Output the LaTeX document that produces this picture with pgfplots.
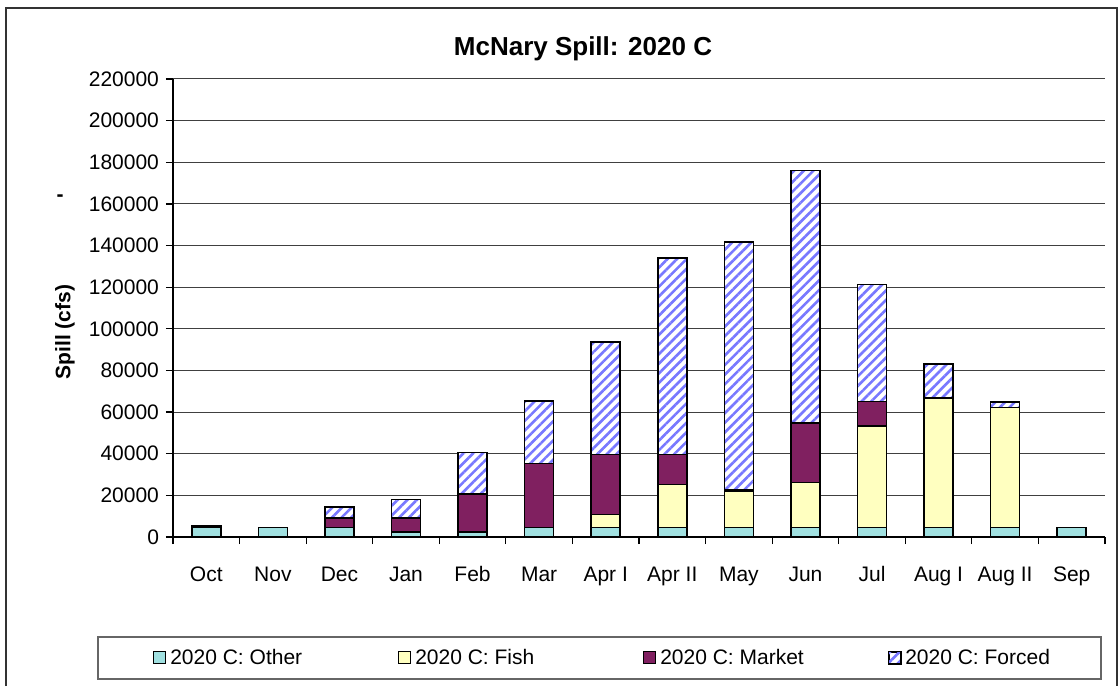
\documentclass[border=0pt]{standalone}
\usepackage{pgfplots}
\pgfplotsset{compat=1.18}
\usepackage{fontspec}
\setmainfont{Liberation Sans}
\usetikzlibrary{patterns.meta}

\definecolor{cOther}{RGB}{160,224,224}
\definecolor{cFish}{RGB}{255,255,192}
\definecolor{cMarket}{RGB}{128,32,96}
\definecolor{cStripe}{RGB}{120,120,255}

\newcommand{\lentry}[1]{\makebox[112pt][l]{#1}}

\begin{document}
\begin{tikzpicture}
% frame (1 px = 0.5 pt, y from bottom)
\begin{scope}[x=0.5pt,y=0.5pt]
  \useasboundingbox (0,0) rectangle (1120,686);
  \draw[black!80, line width=0.6pt] (6,0) -- (6,678) -- (1117,678) -- (1117,0);
  \draw[black!60, line width=0.6pt] (98,49) rectangle (1101,7);
  \node[anchor=base, font=\fontsize{13}{15}\selectfont\bfseries] at (583,630) {McNary Spill: 2020 C};
  \node[rotate=90, font=\fontsize{10.5}{12}\selectfont\bfseries] at (65,354) {Spill (cfs)};
  \node[font=\fontsize{10.5}{12}\selectfont\bfseries] at (60,488) {-};
\end{scope}

\begin{axis}[
  at={(86.5pt,74.5pt)}, anchor=south west,
  scale only axis, width=466pt, height=229pt,
  ybar stacked, bar width=14.5pt,
  xmin=-0.5, xmax=13.5,
  ymin=0, ymax=220000,
  xtick={-0.5,0.5,...,13.5},
  x tick label as interval,
  xticklabels={Oct,Nov,Dec,Jan,Feb,Mar,Apr I,Apr II,May,Jun,Jul,Aug I,Aug II,Sep},
  ytick={0,20000,40000,60000,80000,100000,120000,140000,160000,180000,200000,220000},
  yticklabels={0,20000,40000,60000,80000,100000,120000,140000,160000,180000,200000,220000},
  scaled y ticks=false,
  tick label style={font=\fontsize{10.5}{12}\selectfont},
  xticklabel style={yshift=-7pt, text height=8pt, text depth=2pt},
  tick align=outside, major tick length=3.5pt,
  tick style={black, line width=0.6pt},
  axis x line*=bottom, axis y line*=left,
  axis line style={black, line width=0.8pt, -},
  ymajorgrids, major grid style={black!75, line width=0.5pt},
  legend columns=4,
  legend style={draw=none, fill=none, at={(-0.028,-0.264)}, anchor=west,
    font=\fontsize{10.5}{12}\selectfont,
    /tikz/every even column/.append style={column sep=0pt}},
  legend image code/.code={\draw[#1, line width=0.5pt] (0pt,-3pt) rectangle (6pt,3pt);},
  every axis plot/.append style={draw=black, line width=0.8pt},
]
\addplot[fill=cOther] coordinates {
(0,4500) (1,4500) (2,4500) (3,2400) (4,2500) (5,4500) (6,4500)
(7,4500) (8,4500) (9,4500) (10,4500) (11,4500) (12,4500) (13,4500)};
\addlegendentry{\lentry{2020 C: Other}}
\addplot[fill=cFish] coordinates {
(0,0) (1,0) (2,0) (3,0) (4,0) (5,0) (6,6400)
(7,20800) (8,17300) (9,21600) (10,48800) (11,62300) (12,57800) (13,0)};
\addlegendentry{\lentry{2020 C: Fish}}
\addplot[fill=cMarket] coordinates {
(0,800) (1,0) (2,4500) (3,6600) (4,18100) (5,30900) (6,28800)
(7,14400) (8,800) (9,28800) (10,11700) (11,0) (12,0) (13,0)};
\addlegendentry{\lentry{2020 C: Market}}
\addplot[preaction={fill=white}, pattern={Lines[angle=45,distance=3.4pt,line width=1.3pt]}, pattern color=cStripe] coordinates {
(0,0) (1,0) (2,5400) (3,9100) (4,19900) (5,29800) (6,54100)
(7,94200) (8,119200) (9,121100) (10,56200) (11,16300) (12,2500) (13,0)};
\addlegendentry{2020 C: Forced}
\end{axis}
\end{tikzpicture}
\end{document}
